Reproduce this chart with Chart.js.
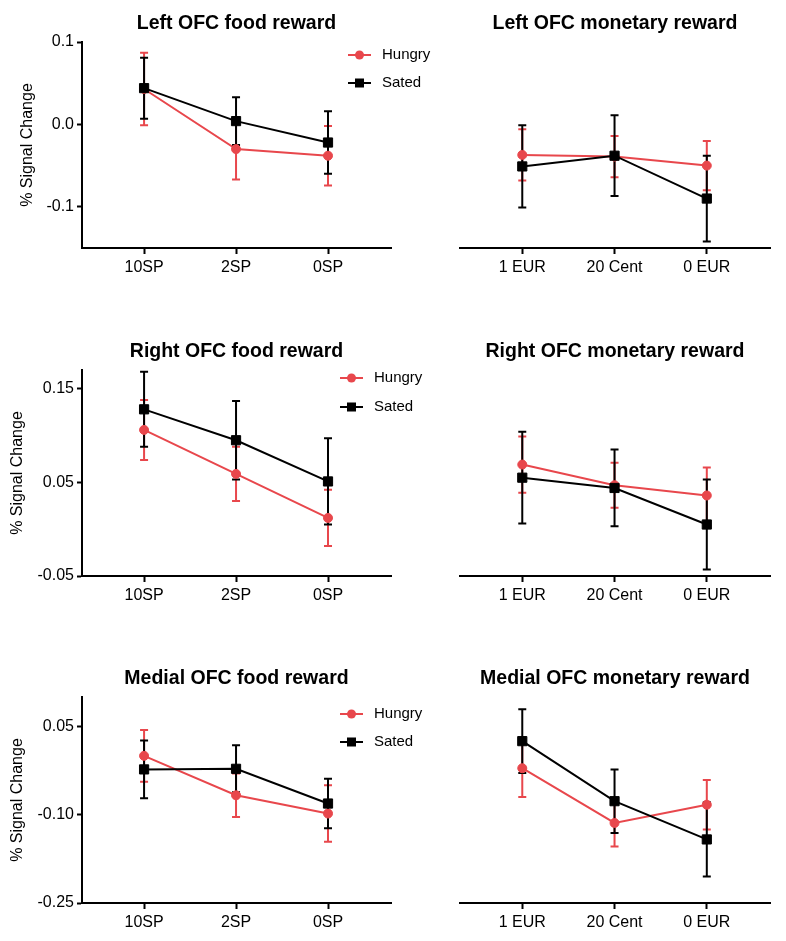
<!DOCTYPE html>
<html>
<head>
<meta charset="utf-8">
<script src="https://cdn.jsdelivr.net/npm/chart.js@4/dist/chart.umd.min.js"></script>
<style>
  html, body { margin: 0; padding: 0; background: #fff; overflow: hidden; }
  body { width: 786px; height: 941px; position: relative; }
  canvas { position: absolute; }
</style>
</head>
<body>
<canvas id="c1" width="440" height="286" style="left:0;top:0"></canvas>
<canvas id="c2" width="386" height="286" style="left:400px;top:0"></canvas>
<canvas id="c3" width="440" height="286" style="left:0;top:328px"></canvas>
<canvas id="c4" width="386" height="286" style="left:400px;top:328px"></canvas>
<canvas id="c5" width="440" height="286" style="left:0;top:655px"></canvas>
<canvas id="c6" width="386" height="286" style="left:400px;top:655px"></canvas>
<script>
// categories
const foodCats = ['10SP', '2SP', '0SP'];
const moneyCats = ['1 EUR', '20 Cent', '0 EUR'];
const seriesNames = ['Hungry', 'Sated'];

// Left OFC (mean, SEM)
const leftFoodHungry = [0.043, -0.030, -0.038];
const leftFoodHungryErr = [0.044, 0.037, 0.036];
const leftFoodSated = [0.044, 0.004, -0.022];
const leftFoodSatedErr = [0.037, 0.029, 0.038];
const leftMoneyHungry = [-0.037, -0.039, -0.050];
const leftMoneyHungryErr = [0.031, 0.025, 0.030];
const leftMoneySated = [-0.051, -0.038, -0.090];
const leftMoneySatedErr = [0.050, 0.049, 0.052];

// Right OFC
const rightFoodHungry = [0.106, 0.059, 0.012];
const rightFoodHungryErr = [0.032, 0.029, 0.030];
const rightFoodSated = [0.128, 0.095, 0.051];
const rightFoodSatedErr = [0.040, 0.042, 0.046];
const rightMoneyHungry = [0.069, 0.047, 0.036];
const rightMoneyHungryErr = [0.030, 0.024, 0.030];
const rightMoneySated = [0.055, 0.044, 0.005];
const rightMoneySatedErr = [0.049, 0.041, 0.048];

// Medial OFC
const medialFoodHungry = [0.000, -0.067, -0.098];
const medialFoodHungryErr = [0.044, 0.037, 0.048];
const medialFoodSated = [-0.023, -0.022, -0.081];
const medialFoodSatedErr = [0.049, 0.040, 0.042];
const medialMoneyHungry = [-0.021, -0.114, -0.083];
const medialMoneyHungryErr = [0.049, 0.040, 0.042];
const medialMoneySated = [0.025, -0.077, -0.142];
const medialMoneySatedErr = [0.054, 0.054, 0.063];

// y axis ranges and ticks per row
const leftRange = [-0.15, 0.1];
const leftTicks = [-0.1, 0.0, 0.1];
const leftTickLabels = ['-0.1', '0.0', '0.1'];
const rightRange = [-0.05, 0.17];
const rightTicks = [-0.05, 0.05, 0.15];
const rightTickLabels = ['-0.05', '0.05', '0.15'];
const medialRange = [-0.25, 0.10];
const medialTicks = [-0.25, -0.10, 0.05];
const medialTickLabels = ['-0.25', '-0.10', '0.05'];

const RED = '#e8474c';
const BLACK = '#000000';
const FONT = "'Liberation Sans', Arial, Helvetica, sans-serif";

// error bars drawn from the dataset's own errors through the scales
const errorBars = {
  id: 'errorBars',
  beforeDatasetsDraw(chart) {
    const { ctx, scales: { x, y } } = chart;
    ctx.save();
    ctx.lineWidth = 2;
    chart.data.datasets.forEach(ds => {
      ctx.strokeStyle = ds.borderColor;
      ds.data.forEach((p, i) => {
        const e = ds.errors[i];
        const px = x.getPixelForValue(p.x);
        const top = y.getPixelForValue(p.y + e);
        const bot = y.getPixelForValue(p.y - e);
        ctx.beginPath();
        ctx.moveTo(px, top); ctx.lineTo(px, bot);
        ctx.moveTo(px - 4, top); ctx.lineTo(px + 4, top);
        ctx.moveTo(px - 4, bot); ctx.lineTo(px + 4, bot);
        ctx.stroke();
      });
    });
    ctx.restore();
  }
};

// panel title centred over the plot area
const panelTitle = {
  id: 'panelTitle',
  afterDraw(chart, args, opts) {
    const { ctx, chartArea } = chart;
    ctx.save();
    ctx.font = 'bold 19.5px ' + FONT;
    ctx.fillStyle = '#000';
    ctx.textAlign = 'center';
    ctx.textBaseline = 'middle';
    ctx.fillText(opts.text, (chartArea.left + chartArea.right) / 2, chartArea.top - 18);
    ctx.restore();
  }
};

// little legend at the top right of the food panels
const sideLegend = {
  id: 'sideLegend',
  afterDraw(chart, args, opts) {
    if (!opts.show) return;
    const ctx = chart.ctx;
    ctx.save();
    chart.data.datasets.forEach((ds, i) => {
      const yy = opts.y[i];
      ctx.strokeStyle = ds.borderColor;
      ctx.fillStyle = ds.borderColor;
      ctx.lineWidth = 2;
      ctx.beginPath();
      ctx.moveTo(opts.x0, yy); ctx.lineTo(opts.x0 + 23, yy);
      ctx.stroke();
      const mx = opts.x0 + 11.5;
      if (ds.pointStyle === 'circle') {
        ctx.beginPath(); ctx.arc(mx, yy, 4.5, 0, Math.PI * 2); ctx.fill();
      } else {
        ctx.fillRect(mx - 4.5, yy - 4.5, 9, 9);
      }
      ctx.font = '15px ' + FONT;
      ctx.fillStyle = '#000';
      ctx.textAlign = 'left';
      ctx.textBaseline = 'middle';
      ctx.fillText(ds.label, opts.x0 + 34, yy);
    });
    ctx.restore();
  }
};

function toPoints(vals) {
  return vals.map((v, i) => ({ x: i, y: v }));
}

function makePanel(id, title, cats, hungry, hungryErr, sated, satedErr, range, ticks, tickLabels, isLeft, legend) {
  const padLeft = isLeft ? legend.padLeft : 60;
  new Chart(document.getElementById(id), {
    type: 'line',
    data: {
      datasets: [
        {
          label: seriesNames[0], data: toPoints(hungry), errors: hungryErr,
          borderColor: RED, backgroundColor: RED, borderWidth: 2,
          pointStyle: 'circle', pointRadius: 4.5, pointBorderWidth: 1, order: 1
        },
        {
          label: seriesNames[1], data: toPoints(sated), errors: satedErr,
          borderColor: BLACK, backgroundColor: BLACK, borderWidth: 2,
          pointStyle: 'rect', pointRadius: 6.5, pointBorderWidth: 1, order: 0
        }
      ]
    },
    options: {
      responsive: false,
      animation: false,
      layout: { padding: { left: padLeft, right: isLeft ? 49 : 16, top: 42, bottom: 8 } },
      plugins: {
        legend: { display: false },
        tooltip: { enabled: false },
        panelTitle: { text: title },
        sideLegend: isLeft ? Object.assign({ show: true }, legend) : { show: false }
      },
      scales: {
        x: {
          type: 'linear',
          min: -0.675, max: 2.685,
          afterBuildTicks: s => { s.ticks = cats.map((c, i) => ({ value: i })); },
          afterFit: s => { s.height = 30; },
          ticks: {
            callback: v => cats[v],
            color: '#000', padding: 4,
            font: { family: FONT, size: 16 }
          },
          grid: { display: true, drawOnChartArea: false, tickLength: 6, tickWidth: 2, tickColor: '#000' },
          border: { display: true, color: '#000', width: 2 }
        },
        y: {
          display: isLeft,
          min: range[0], max: range[1],
          afterBuildTicks: s => { s.ticks = ticks.map(v => ({ value: v })); },
          afterFit: s => { s.width = isLeft ? 82 - padLeft : 0; },
          ticks: {
            callback: v => tickLabels[ticks.indexOf(v)] ?? '',
            color: '#000', padding: 3,
            font: { family: FONT, size: 16 }
          },
          title: {
            display: true, text: '% Signal Change', color: '#000',
            font: { family: FONT, size: 16 }, padding: { top: 4, bottom: 0 }
          },
          grid: { display: true, drawOnChartArea: false, tickLength: 5, tickWidth: 2, tickColor: '#000' },
          border: { display: true, color: '#000', width: 2 }
        }
      }
    },
    plugins: [errorBars, panelTitle, sideLegend]
  });
}

makePanel('c1', 'Left OFC food reward', foodCats, leftFoodHungry, leftFoodHungryErr, leftFoodSated, leftFoodSatedErr,
  leftRange, leftTicks, leftTickLabels, true, { padLeft: 14, x0: 348, y: [55, 83] });
makePanel('c2', 'Left OFC monetary reward', moneyCats, leftMoneyHungry, leftMoneyHungryErr, leftMoneySated, leftMoneySatedErr,
  leftRange, leftTicks, leftTickLabels, false);
makePanel('c3', 'Right OFC food reward', foodCats, rightFoodHungry, rightFoodHungryErr, rightFoodSated, rightFoodSatedErr,
  rightRange, rightTicks, rightTickLabels, true, { padLeft: 4, x0: 340, y: [50, 79] });
makePanel('c4', 'Right OFC monetary reward', moneyCats, rightMoneyHungry, rightMoneyHungryErr, rightMoneySated, rightMoneySatedErr,
  rightRange, rightTicks, rightTickLabels, false);
makePanel('c5', 'Medial OFC food reward', foodCats, medialFoodHungry, medialFoodHungryErr, medialFoodSated, medialFoodSatedErr,
  medialRange, medialTicks, medialTickLabels, true, { padLeft: 4, x0: 340, y: [59, 87] });
makePanel('c6', 'Medial OFC monetary reward', moneyCats, medialMoneyHungry, medialMoneyHungryErr, medialMoneySated, medialMoneySatedErr,
  medialRange, medialTicks, medialTickLabels, false);
</script>
</body>
</html>
